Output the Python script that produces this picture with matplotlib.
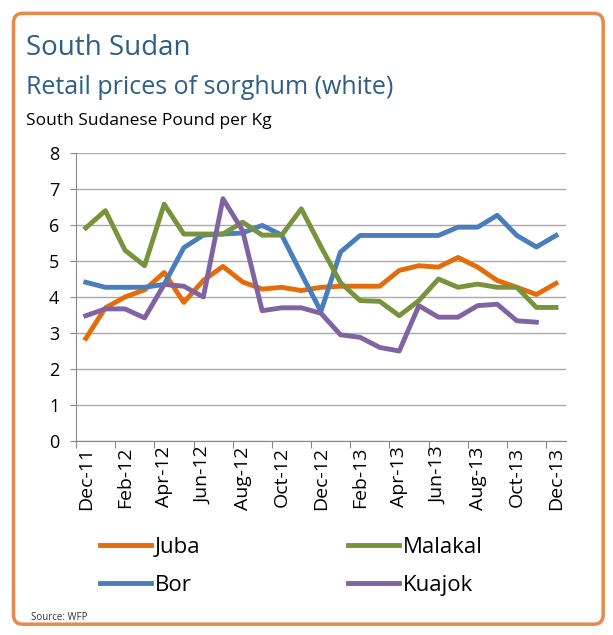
import numpy as np
import matplotlib
matplotlib.use('Agg')
import matplotlib.pyplot as plt
from matplotlib.patches import FancyBboxPatch

plt.rcParams['font.family'] = ['Open Sans', 'DejaVu Sans']

# monthly data Dec-11 .. Dec-13
months = ['Dec-11', 'Jan-12', 'Feb-12', 'Mar-12', 'Apr-12', 'May-12', 'Jun-12', 'Jul-12',
          'Aug-12', 'Sep-12', 'Oct-12', 'Nov-12', 'Dec-12', 'Jan-13', 'Feb-13', 'Mar-13',
          'Apr-13', 'May-13', 'Jun-13', 'Jul-13', 'Aug-13', 'Sep-13', 'Oct-13', 'Nov-13', 'Dec-13']
juba = [2.85, 3.7, 4.0, 4.2, 4.68, 3.85, 4.46, 4.85, 4.42, 4.22, 4.27, 4.18, 4.27,
        4.3, 4.3, 4.3, 4.74, 4.87, 4.83, 5.1, 4.83, 4.46, 4.27, 4.07, 4.38]
malakal = [5.92, 6.4, 5.3, 4.87, 6.58, 5.75, 5.75, 5.75, 6.08, 5.72, 5.72, 6.45, 5.4,
           4.4, 3.9, 3.88, 3.48, 3.9, 4.5, 4.27, 4.36, 4.27, 4.27, 3.71, 3.71]
bor = [4.41, 4.27, 4.27, 4.27, 4.35, 5.37, 5.72, 5.75, 5.78, 5.99, 5.72, 4.65, 3.6,
       5.25, 5.71, 5.71, 5.71, 5.71, 5.71, 5.94, 5.94, 6.27, 5.71, 5.39, 5.71]
kuajok = [3.48, 3.67, 3.67, 3.42, 4.35, 4.3, 4.0, 6.73, 5.85, 3.62, 3.7, 3.7, 3.55,
          2.95, 2.88, 2.6, 2.5, 3.76, 3.44, 3.44, 3.76, 3.8, 3.34, 3.3, np.nan]

c_juba = '#E46C0A'
c_malakal = '#77933C'
c_bor = '#4A7EBB'
c_kuajok = '#8064A2'

fig = plt.figure(figsize=(6.13, 6.35), dpi=100)

# rounded orange frame
frame = FancyBboxPatch((0.022, 0.017), 0.962, 0.962, boxstyle='round,pad=0,rounding_size=0.015',
                       transform=fig.transFigure, facecolor='white', edgecolor='#E8894A',
                       linewidth=2.5, zorder=-10)
fig.patches.append(frame)

fig.text(0.042, 0.925, 'South Sudan', fontsize=20, color='#2E5E86', va='center')
fig.text(0.042, 0.862, 'Retail prices of sorghum (white)', fontsize=18, color='#2E5E86', va='center')
fig.text(0.042, 0.810, 'South Sudanese Pound per Kg', fontsize=12.5, color='black', va='center')
fig.text(0.05, 0.028, 'Source: WFP', fontsize=7, color='#333333', va='center')

ax = fig.add_axes([0.124, 0.3055, 0.799, 0.4535])
ax.patch.set_alpha(0)
x = np.arange(len(months))
lw = 3.5
ax.plot(x, juba, color=c_juba, lw=lw, label='Juba', solid_joinstyle='round')
ax.plot(x, bor, color=c_bor, lw=lw, label='Bor', solid_joinstyle='round')
ax.plot(x, malakal, color=c_malakal, lw=lw, label='Malakal', solid_joinstyle='round')
ax.plot(x, kuajok, color=c_kuajok, lw=lw, label='Kuajok', solid_joinstyle='round')

ax.set_xlim(-0.5, len(months) - 0.5)
ax.set_ylim(0, 8)
ax.set_yticks(range(0, 9))
ax.tick_params(axis='y', labelsize=13, length=4, color='#888888', pad=8)
ax.grid(axis='y', color='#AAAAAA', lw=1)
ax.set_axisbelow(True)

ax.set_xticks(np.arange(-0.5, len(months) - 1, 2))
ax.set_xticklabels([])
ax.set_xticks(x[::2], minor=True)
ax.set_xticklabels(months[::2], minor=True, rotation=90, fontsize=14)
ax.tick_params(axis='x', which='major', length=5, color='#888888')
ax.tick_params(axis='x', which='minor', length=0, pad=4)

for s in ['top', 'right']:
    ax.spines[s].set_visible(False)
ax.spines['left'].set_color('#888888')
ax.spines['bottom'].set_color('#888888')

handles, labels = ax.get_legend_handles_labels()
fig.legend(handles, labels, ncol=2, loc='upper left', bbox_to_anchor=(0.13, 0.186),
           frameon=False, fontsize=16, handlelength=2.3, handletextpad=0.2,
           columnspacing=6.6, labelspacing=0.75)

fig.savefig('out.png', dpi=100)
